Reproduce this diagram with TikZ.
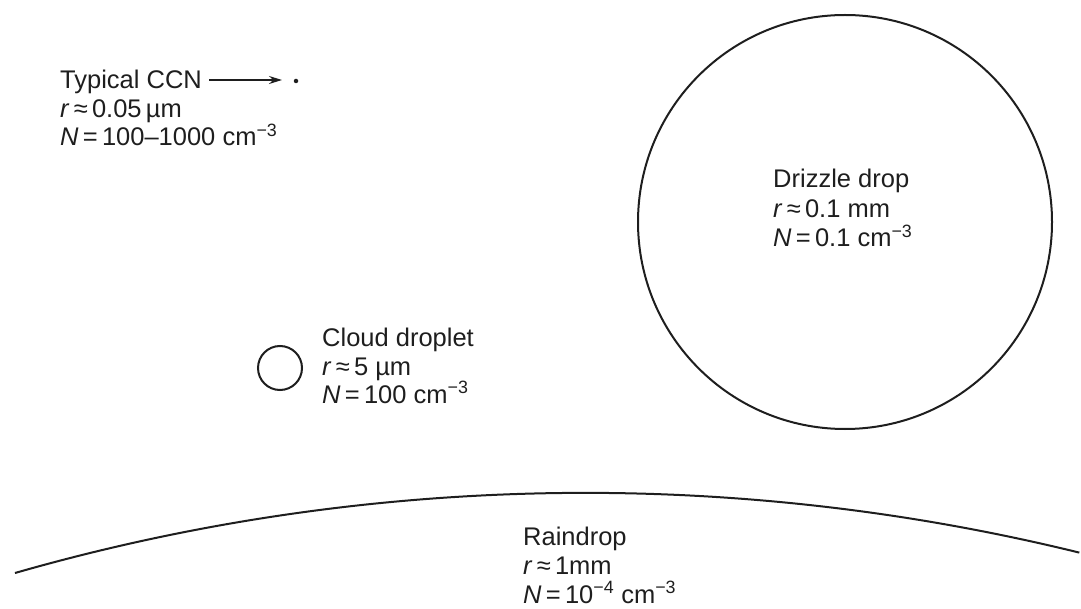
\documentclass[tikz,border=0pt]{standalone}
\usepackage{fontspec}
\setmainfont{Liberation Sans}
\usetikzlibrary{arrows.meta}
\definecolor{ink}{HTML}{1E1E1E}
\tikzset{
  lbl/.style={anchor=base west, inner sep=0pt, font=\fontsize{25.5}{29}\selectfont, text=ink},
  drop/.style={draw=ink, line width=2pt},
}
\newcommand{\sps}[1]{\textsuperscript{#1}}
\begin{document}
\begin{tikzpicture}[x=1pt,y=-1pt]
\useasboundingbox (0,0) rectangle (1081,609);
% CCN
\node[lbl] (ccn1) at (60,89) {Typical CCN};
\node[lbl] (ccn2) at (60,118) {\textit{r}\,≈\,0.05\,µm};
\node[lbl] (ccn3) at (60,146) {\textit{N}\,=\,100–1000 cm\sps{−3}};
\coordinate (arrS) at (209,80);
\node[circle, fill=ink, inner sep=0pt, minimum size=4.5pt] (ccn) at (296,81) {};
\draw[line width=1.5pt, ink, -{Stealth[length=13pt,width=8pt]}] (arrS) -- (282,80);
% Cloud droplet
\node[drop, circle, minimum size=44pt, inner sep=0pt] (cloud) at (280,368) {};
\node[lbl] (cd1) at (322,347) {Cloud droplet};
\node[lbl] (cd2) at (322,375) {\textit{r}\,≈\,5 µm};
\node[lbl] (cd3) at (322,403) {\textit{N}\,=\,100 cm\sps{−3}};
% Drizzle drop
\draw[drop] (845,222) circle[radius=207];
\node[lbl] (dd1) at (773,188) {Drizzle drop};
\node[lbl] (dd2) at (773,218) {\textit{r}\,≈\,0.1 mm};
\node[lbl] (dd3) at (773,247) {\textit{N}\,=\,0.1 cm\sps{−3}};
% Raindrop
\draw[drop] (15,573) arc[start angle=-106.0, end angle=-76.2, radius=2070];
\node[lbl] (rd1) at (523,545) {Raindrop};
\node[lbl] (rd2) at (523,574) {\textit{r}\,≈\,1mm};
\node[lbl] (rd3) at (523,603) {\textit{N}\,=\,10\sps{−4} cm\sps{−3}};
\end{tikzpicture}
\end{document}
